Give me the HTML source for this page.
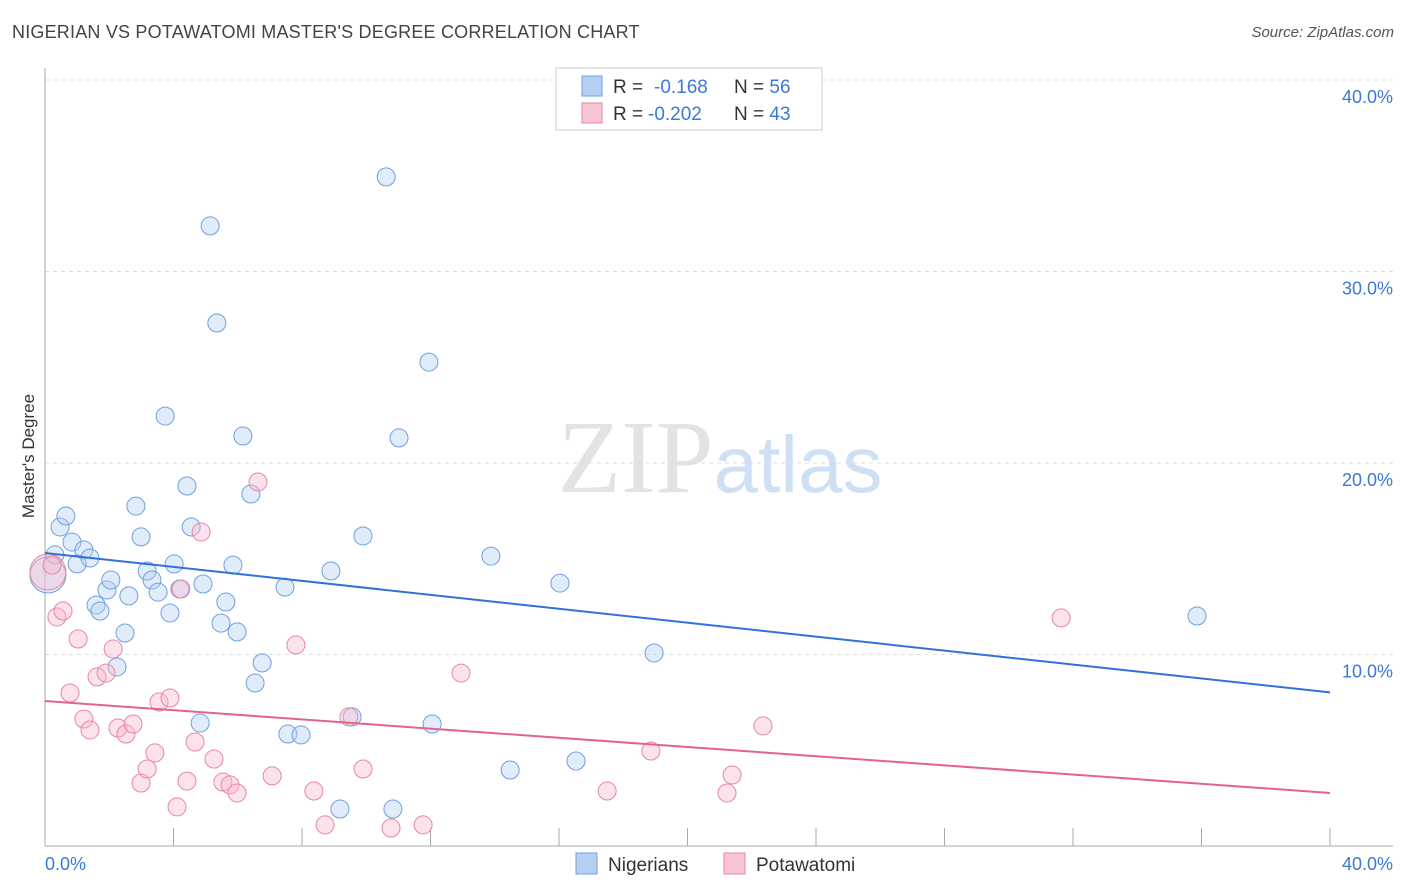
<!DOCTYPE html>
<html><head><meta charset="utf-8"><style>
body{margin:0;background:#fff;font-family:"Liberation Sans",sans-serif;}
#wrap{position:relative;width:1406px;height:892px;}
.t{position:absolute;white-space:nowrap;}
</style></head><body>
<div id="wrap">
<div class="t" style="left:12px;top:22px;font-size:18px;color:#444;letter-spacing:0.2px">NIGERIAN VS POTAWATOMI MASTER'S DEGREE CORRELATION CHART</div>
<div class="t" style="right:12px;top:24px;font-size:15px;color:#555;font-style:italic">Source: ZipAtlas.com</div>
<svg id="svg" width="1406" height="892" style="position:absolute;left:0;top:0"></svg>
</div>
<script>
const xTicksLabels=["0.0%","40.0%"];
const yTickValues=[10,20,30,40];
const nigX=[0.09,0.31,0.47,0.65,0.84,1.00,1.21,1.40,1.59,1.71,1.93,2.05,2.24,2.49,2.61,2.83,2.99,3.18,3.33,3.52,3.74,3.89,4.02,4.20,4.42,4.55,4.83,4.92,5.14,5.35,5.48,5.63,5.85,5.98,6.16,6.41,6.54,6.76,7.47,7.56,7.97,8.90,9.18,9.56,9.90,10.62,10.83,11.02,11.95,12.05,13.88,14.48,16.03,16.53,18.96,35.86];
const nigY=[14.15,15.20,16.66,17.23,15.87,14.73,15.46,15.04,12.58,12.27,13.37,13.89,9.35,11.12,13.06,17.75,16.14,14.36,13.89,13.26,22.45,12.17,14.73,13.42,18.80,16.66,6.42,13.68,32.38,27.31,11.64,12.74,14.67,11.18,21.41,18.38,8.51,9.56,13.52,5.85,5.80,14.36,1.93,6.74,16.19,34.94,1.93,21.31,25.27,6.37,15.14,3.97,13.73,4.44,10.08,12.01];
const potX=[0.09,0.22,0.37,0.56,0.78,1.03,1.21,1.40,1.62,1.90,2.12,2.27,2.52,2.74,2.99,3.18,3.42,3.55,3.89,4.11,4.23,4.42,4.67,4.86,5.26,5.54,5.76,5.98,6.63,7.07,7.81,8.37,8.72,9.46,9.90,10.77,11.77,12.95,17.50,18.86,21.23,21.39,22.35,31.63];
const potY=[14.31,14.67,11.96,12.27,7.99,10.81,6.63,6.06,8.83,9.03,10.29,6.16,5.85,6.37,3.29,4.02,4.86,7.52,7.73,2.04,13.42,3.39,5.43,16.40,4.54,3.34,3.19,2.77,19.01,3.66,10.50,2.87,1.10,6.74,4.02,0.94,1.10,9.03,2.87,4.96,2.77,3.71,6.27,11.91];
const nigTrend=[15.30,8.02];
const potTrend=[7.57,2.77];

const X0=45,X1=1330,Y0=846,Y40=80;
const sx=v=>X0+(X1-X0)*v/40;
const sy=v=>Y0-(Y0-Y40)*v/40;
const svg=document.getElementById('svg');
const NS='http://www.w3.org/2000/svg';
function mk(tag,attrs,parent){const e=document.createElementNS(NS,tag);for(const k in attrs)e.setAttribute(k,attrs[k]);(parent||svg).appendChild(e);return e;}

let wm=mk('text',{x:720,y:492,'text-anchor':'middle','font-size':104,'font-family':'Liberation Serif, serif',fill:'#e3e3e3'});


wm.innerHTML='ZIP<tspan fill="#cfe0f5" font-family="Liberation Sans, sans-serif" font-size="80">atlas</tspan>';

yTickValues.forEach(v=>{
 const g=mk('line',{x1:X0,x2:1393,y1:sy(v),y2:sy(v),stroke:'#ddd','stroke-dasharray':'4,4'});
 
 
 const t=mk('text',{x:1393,y:sy(v)+23,'text-anchor':'end','font-size':18,fill:'#3b78d8'});
 
 
 t.textContent=v.toFixed(1)+'%';
});
let ax=mk('line',{x1:X0,x2:X0,y1:68,y2:Y0,stroke:'#aaa'});


let bx=mk('line',{x1:X0,x2:1393,y1:Y0,y2:Y0,stroke:'#aaa'});


for(let i=0;i<=10;i++){
 const tk=mk('line',{x1:sx(i*4),x2:sx(i*4),y1:828,y2:Y0,stroke:'#aaa'});
 
 
}
let xl0=mk('text',{x:45,y:870,'font-size':18,fill:'#3b78d8'});


xl0.textContent=xTicksLabels[0];
let xl1=mk('text',{x:1393,y:870,'text-anchor':'end','font-size':18,fill:'#3b78d8'});


xl1.textContent=xTicksLabels[1];
let yt=mk('text',{x:34,y:456,'text-anchor':'middle','font-size':17,fill:'#333',transform:'rotate(-90 34 456)'});


yt.textContent="Master's Degree";

function pts(xs,ys,fill,stroke,name){
 xs.forEach((x,i)=>{
  const r=(i===0)?18:9;
  const c=mk('circle',{cx:sx(x),cy:sy(ys[i]),r:r,fill:fill,stroke:stroke,'stroke-width':1,'fill-opacity':0.4});
  
  
 });
}
pts(nigX,nigY,'#b5cff2','#6f9fe0','nigerian-point');
pts(potX,potY,'#f7b9cc','#e8869f','potawatomi-point');
let l1=mk('line',{x1:sx(0),y1:sy(nigTrend[0]),x2:sx(40),y2:sy(nigTrend[1]),stroke:'#2f72d8','stroke-width':2});


let l2=mk('line',{x1:sx(0),y1:sy(potTrend[0]),x2:sx(40),y2:sy(potTrend[1]),stroke:'#e2648e','stroke-width':2});



let lb=mk('rect',{x:556,y:68,width:266,height:62,fill:'#fff',stroke:'#ccc'});


[['#b5cff2','#6f9fe0','-0.168','56',86],['#f7c6d4','#e8869f','-0.202','43',113]].forEach((d,i)=>{
 const s=mk('rect',{x:582,y:d[4]-10,width:20,height:20,fill:d[0],stroke:d[1]});
 
 
 const t=mk('text',{x:613,y:d[4]+7,'font-size':19,fill:'#333'});
 
 
 t.innerHTML='R = <tspan fill="#3b78d8" x="'+(i?648:654)+'">'+d[2]+'</tspan><tspan x="734">N = </tspan><tspan fill="#3b78d8">'+d[3]+'</tspan>';
});
[['#b5cff2','#6f9fe0','Nigerians',576],['#f7c6d4','#e8869f','Potawatomi',724]].forEach(d=>{
 const s=mk('rect',{x:d[3],y:853,width:21,height:21,fill:d[0],stroke:d[1]});
 
 
 const t=mk('text',{x:d[3]+32,y:871,'font-size':19,fill:'#333'});
 
 
 t.textContent=d[2];
});
</script>
</body></html>
